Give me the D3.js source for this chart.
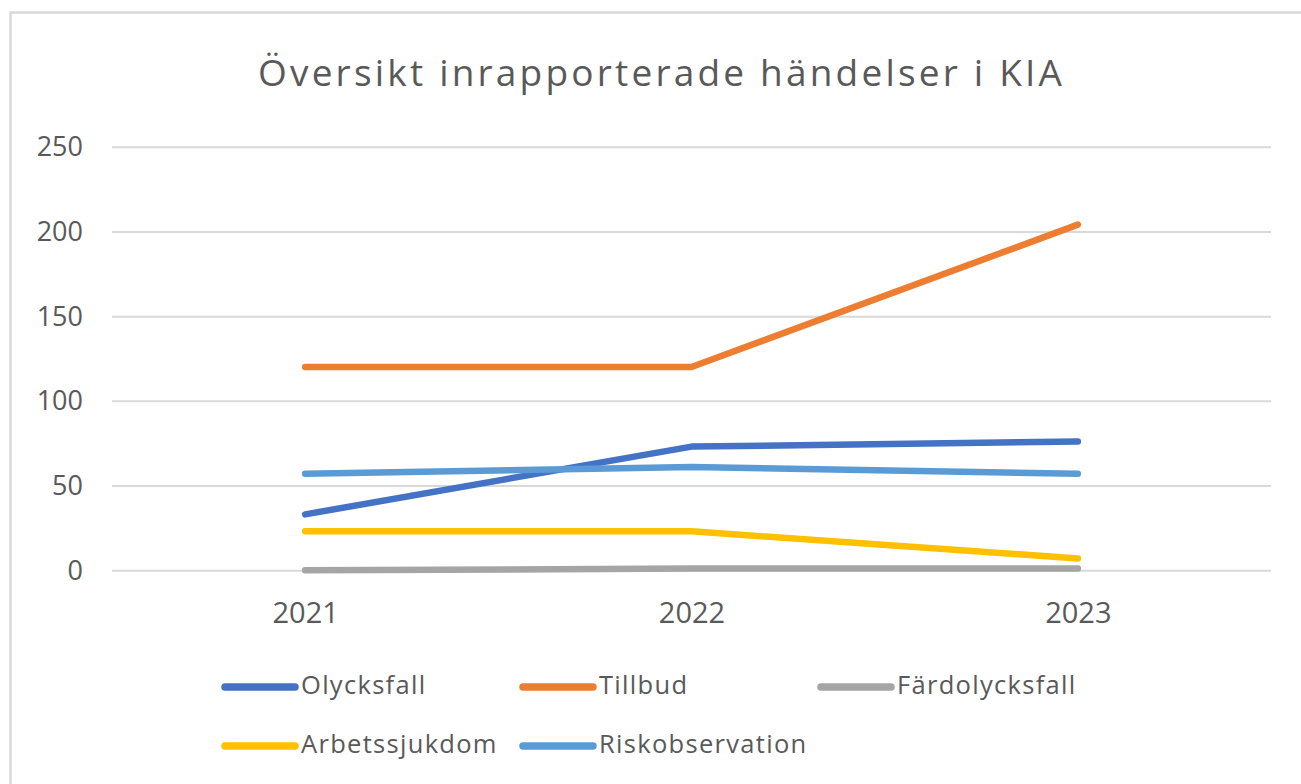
<!DOCTYPE html>
<html>
<head>
<meta charset="utf-8">
<script src="https://cdn.jsdelivr.net/npm/d3@7"></script>
<style>
  html, body { margin: 0; padding: 0; background: #fff; }
  svg { display: block; }
  text { font-family: "Open Sans", "Noto Sans", sans-serif; fill: #595959; }
</style>
</head>
<body>
<svg id="chart" width="1301" height="784"></svg>
<script>
// Years on the x axis
const years = ["2021", "2022", "2023"];

// Reported events per category and year
const olycksfall      = [33, 73, 76];
const tillbud         = [120, 120, 204];
const fardolycksfall  = [0, 1, 1];
const arbetssjukdom   = [23, 23, 7];
const riskobservation = [57, 61, 57];

const seriesNames  = ["Olycksfall", "Tillbud", "Färdolycksfall", "Arbetssjukdom", "Riskobservation"];
const seriesValues = [olycksfall, tillbud, fardolycksfall, arbetssjukdom, riskobservation];
const seriesColors = ["#4472C4", "#ED7D31", "#A5A5A5", "#FFC000", "#5B9BD5"];

const yTicks = [0, 50, 100, 150, 200, 250];
const title = "Översikt inrapporterade händelser i KIA";

const svg = d3.select("#chart");

// Spread a text's letters so that it covers the given width
function spreadTo(sel, width) {
  sel.each(function () {
    const n = this.textContent.length;
    const w = this.getComputedTextLength();
    if (n > 1) d3.select(this).style("letter-spacing", ((width - w) / (n - 1)) + "px");
  });
}

// Chart area frame
svg.append("rect")
  .attr("x", 10.5).attr("y", 12.5)
  .attr("width", 1320).attr("height", 800)
  .attr("fill", "#fff")
  .attr("stroke", "#d9d9d9").attr("stroke-width", 2.5);

const plot = { left: 112, right: 1271, top: 146.7, bottom: 570.3 };

const x = d3.scalePoint().domain(years).range([plot.left, plot.right]).padding(0.5);
const y = d3.scaleLinear().domain([0, 250]).range([plot.bottom, plot.top]);

// Title
const titleText = svg.append("text")
  .attr("x", 258).attr("y", 86)
  .style("font-size", "37px")
  .text(title);
spreadTo(titleText, 804);

// Horizontal gridlines and y labels
const yAxis = d3.axisLeft(y).tickValues(yTicks).tickSize(-(plot.right - plot.left)).tickPadding(29);
const gy = svg.append("g").attr("transform", `translate(${plot.left},0)`).call(yAxis);
gy.select(".domain").remove();
gy.selectAll(".tick line").attr("stroke", "#d9d9d9").attr("stroke-width", 2);
gy.selectAll(".tick text")
  .style("font-size", "27px").style("font-family", null)
  .attr("fill", "#595959").attr("dy", "0.33em");

// X labels
const xAxis = d3.axisBottom(x).tickSize(0).tickPadding(0);
const gx = svg.append("g").attr("transform", `translate(0,${plot.bottom})`).call(xAxis);
gx.select(".domain").remove();
gx.selectAll(".tick text")
  .style("font-size", "29px")
  .attr("fill", "#595959")
  .attr("dy", null).attr("y", 53);

// Series lines
const line = d3.line().x((d, i) => x(years[i])).y(d => y(d));
seriesValues.forEach((vals, k) => {
  svg.append("path")
    .datum(vals)
    .attr("d", line)
    .attr("fill", "none")
    .attr("stroke", seriesColors[k])
    .attr("stroke-width", 6.5)
    .attr("stroke-linecap", "round")
    .attr("stroke-linejoin", "round");
});

// Legend (three per row)
const legend = svg.append("g");
seriesNames.forEach((name, k) => {
  const col = k % 3, row = Math.floor(k / 3);
  const lx = 222 + col * 298, ly = 687 + row * 59;
  const g = legend.append("g").attr("transform", `translate(${lx},${ly})`);
  g.append("line")
    .attr("x1", 3).attr("x2", 73).attr("y1", 0).attr("y2", 0)
    .attr("stroke", seriesColors[k]).attr("stroke-width", 7.5)
    .attr("stroke-linecap", "round");
  g.append("text")
    .attr("x", 79).attr("y", 7)
    .style("font-size", "25.5px")
    .style("letter-spacing", "1.3px")
    .text(name);
});
</script>
</body>
</html>
